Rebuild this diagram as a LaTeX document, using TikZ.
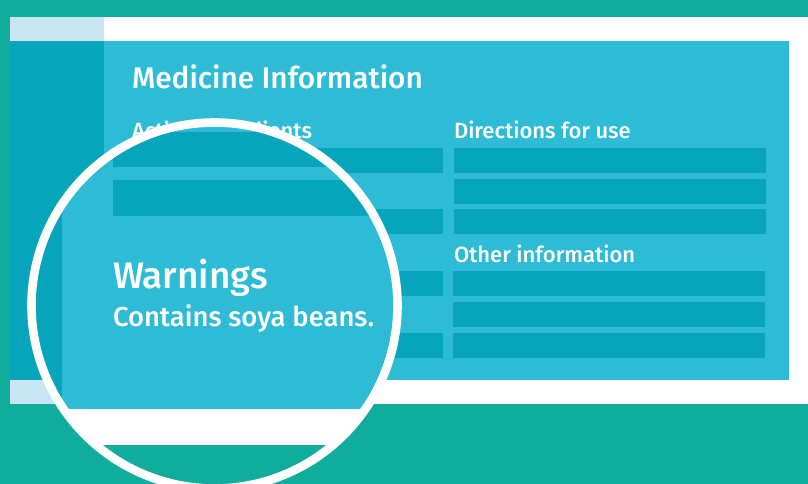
\documentclass[tikz,border=0pt]{standalone}
\usepackage{fontspec}
\setmainfont{Fira Sans}
\newfontfamily\medfont{Fira Sans Medium}
\definecolor{teal0}{HTML}{10AC9C}
\definecolor{lightb}{HTML}{2EBBD5}
\definecolor{darkb}{HTML}{07A5BB}
\definecolor{pale}{HTML}{C8E6F1}
\tikzset{
  bar/.style={fill=darkb,draw=none},
  label/.style={text=white,anchor=base west,inner sep=0pt,outer sep=0pt},
  headsmall/.style={label,font=\medfont\fontsize{22}{24}\selectfont},
}
\begin{document}
\begin{tikzpicture}[x=1pt,y=-1pt]
\useasboundingbox (0,0) rectangle (808,484);
\fill[teal0] (0,0) rectangle (808,484);
% card
\fill[white] (10,17.5) rectangle (808,404);
\fill[pale] (10,17.5) rectangle (104,41);
\fill[pale] (10,380) rectangle (104,404);
\fill[lightb] (104,41) rectangle (789,380);
\fill[darkb] (10,41) rectangle (104,380);
\node[label,font=\medfont\fontsize{29.8}{32}\selectfont] (title) at (132,89) {Medicine Information};
\node[headsmall] (active) at (132,139) {Active ingredients};
\node[headsmall] (directions) at (454,139) {Directions for use};
\node[headsmall] (other) at (454,262) {Other information};
% left column bars
\fill[bar] (113,148) rectangle (443,172.5);
\fill[bar] (113,209) rectangle (443,233.5);
\fill[bar] (113,271) rectangle (443,296);
\fill[bar] (113,333) rectangle (443,358);
% right column bars
\fill[bar] (454,148) rectangle (766,172.5);
\fill[bar] (453.5,179) rectangle (765.5,203.5);
\fill[bar] (453.5,209) rectangle (765.5,233.5);
\fill[bar] (453,271) rectangle (765,296);
\fill[bar] (453,302) rectangle (765,327);
\fill[bar] (453,333) rectangle (765,358);
% magnifier
\begin{scope}
\clip (214.5,305.5) circle[radius=183];
\fill[teal0] (0,100) rectangle (420,500);
\fill[white] (0,100) rectangle (420,445.3);
\fill[lightb] (62,100) rectangle (420,408.7);
\fill[darkb] (0,100) rectangle (62,408.7);
\fill[bar] (113,131.7) rectangle (420,167);
\fill[bar] (113,179.5) rectangle (420,215.5);
\end{scope}
\draw[white,line width=8.6pt] (214.5,305.5) circle[radius=183];
\node[label,font=\medfont\fontsize{36.9}{40}\selectfont] (warn) at (113,288) {Warnings};
\node[label,font=\medfont\fontsize{27.4}{30}\selectfont] (soya) at (113,326) {Contains soya beans.};
\end{tikzpicture}
\end{document}
